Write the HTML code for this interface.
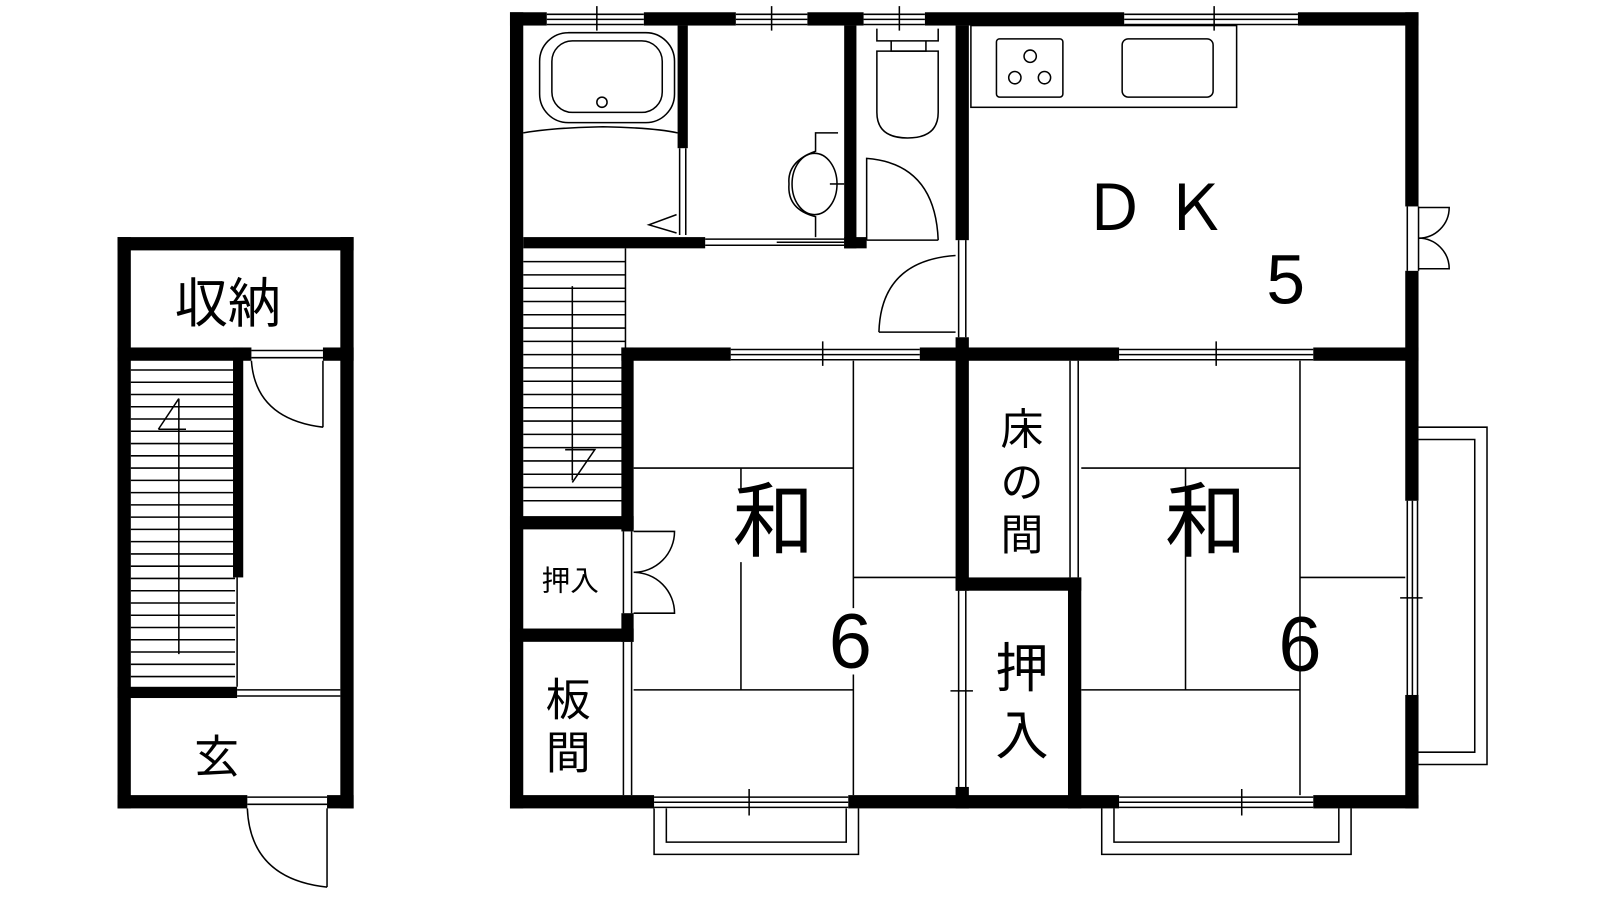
<!DOCTYPE html>
<html><head><meta charset="utf-8"><style>
html,body{margin:0;padding:0;background:#fff}
svg{display:block}
text{font-family:"Liberation Sans","Noto Sans CJK JP",sans-serif;fill:#000}
</style></head><body>
<svg width="1600" height="900" viewBox="0 0 1600 900" xmlns="http://www.w3.org/2000/svg">
<g transform="scale(1.022)">
<g fill="#000">
<rect x="115" y="232" width="231" height="13"/>
<rect x="115" y="232" width="13" height="559"/>
<rect x="333" y="232" width="13" height="559"/>
<rect x="115" y="778" width="127" height="13"/>
<rect x="320" y="778" width="26" height="13"/>
<rect x="115" y="340" width="131" height="13"/>
<rect x="316" y="340" width="30" height="13"/>
<rect x="228" y="340" width="10" height="225"/>
<rect x="115" y="672" width="117" height="11"/>
<rect x="499" y="12" width="36" height="13"/>
<rect x="630" y="12" width="90" height="13"/>
<rect x="790" y="12" width="55" height="13"/>
<rect x="905" y="12" width="195" height="13"/>
<rect x="1270" y="12" width="118" height="13"/>
<rect x="499" y="12" width="13" height="779"/>
<rect x="1375" y="12" width="13" height="190"/>
<rect x="1375" y="265" width="13" height="225"/>
<rect x="1375" y="680" width="13" height="111"/>
<rect x="499" y="778" width="141" height="13"/>
<rect x="830" y="778" width="265" height="13"/>
<rect x="1285" y="778" width="103" height="13"/>
<rect x="663" y="25" width="10" height="120"/>
<rect x="512" y="232" width="178" height="11"/>
<rect x="826" y="25" width="12" height="218"/>
<rect x="826" y="232" width="22" height="11"/>
<rect x="935" y="25" width="13" height="210"/>
<rect x="935" y="330" width="13" height="248"/>
<rect x="608" y="340" width="107" height="13"/>
<rect x="900" y="340" width="195" height="13"/>
<rect x="1285" y="340" width="103" height="13"/>
<rect x="608" y="340" width="12" height="180"/>
<rect x="499" y="505" width="121" height="13"/>
<rect x="608" y="600" width="12" height="28"/>
<rect x="499" y="615" width="121" height="13"/>
<rect x="935" y="565" width="123" height="13"/>
<rect x="1045" y="565" width="13" height="226"/>
<rect x="935" y="770" width="13" height="21"/>
</g>
<g fill="none" stroke="#000" stroke-width="1.5">
<path d="M535 14H630M535 19H630M535 24H630M584 6V30"/>
<path d="M720 14H790M720 19H790M720 24H790M755 6V30"/>
<path d="M845 14H905M845 19H905M845 24H905M880 6V30"/>
<path d="M1100 14H1270M1100 19H1270M1100 24H1270M1188 6V30"/>
<path d="M715 342H900M715 347H900M715 352H900M805 334V358"/>
<path d="M1095 342H1285M1095 347H1285M1095 352H1285M1190 334V358"/>
<path d="M640 780H830M640 785H830M640 790H830M733 772V798"/>
<path d="M640 791V836H840V791M652 791V824H828V791"/>
<path d="M1095 780H1285M1095 785H1285M1095 790H1285M1215 772V798"/>
<path d="M1078 791V836H1322V791M1090 791V824H1310V791"/>
<path d="M1377 490V680M1382 490V680M1387 490V680M1370 585H1392"/>
<path d="M1388 418H1455V748H1388M1388 430H1443V736H1388"/>
<path d="M1377 202V265M1388 202V265M1388 203H1418A30 30 0 0 1 1388 233M1388 263H1418A30 30 0 0 0 1388 233"/>
<path d="M512 130Q540 125 590 124Q640 125 663 130"/>
<rect x="528" y="32" width="132" height="88" rx="28"/>
<rect x="540" y="40" width="108" height="70" rx="20"/>
<circle cx="589" cy="100" r="5"/>
<path d="M665 145V230M671 145V230M662 210L635 220L662 228"/>
<path d="M820 130H798V148Q770 158 772 180Q770 205 798 212V232"/>
<ellipse cx="797" cy="180" rx="22" ry="30"/>
<path d="M812 180H826"/>
<path d="M690 234H826M690 240H826M760 237H826"/>
<path d="M858 28V40H918V28M872 40V50H906V40"/>
<path d="M858 50H918V110Q918 135 888 135Q858 135 858 110Z"/>
<path d="M848 235V155Q915 160 918 235M848 235H918"/>
<path d="M938 235V330M945 235V330"/>
<path d="M860 325H935M860 325Q862 255 935 250"/>
<rect x="950" y="25" width="260" height="80"/>
<rect x="975" y="38" width="65" height="57" rx="3"/>
<circle cx="1008" cy="55" r="6"/><circle cx="993" cy="76" r="6"/><circle cx="1022" cy="76" r="6"/>
<rect x="1098" y="38" width="89" height="57" rx="6"/>
<path d="M612 243V505M560 280V470M553 440H582L560 472"/>
<path d="M610 520V600M618 520V600M620 520H660A40 40 0 0 1 620 560M620 600H660A40 40 0 0 0 620 560"/>
<path d="M610 628V778M618 628V778"/>
<path d="M835 353V565M620 458H835M725 458V480M725 550V675M835 565H935M620 675H835M835 565V595M835 660V778"/>
<path d="M1047 353V565M1055 353V565"/>
<path d="M938 578V770M945 578V770M930 676H952"/>
<path d="M1272 353V565M1058 458H1272M1160 458V675M1272 565H1375M1058 675H1272M1272 565V778"/>
<path d="M246 343H316M246 350H316M316 353V418M246 353Q250 410 316 418"/>
<path d="M232 565V672M232 675H333M232 681H333"/>
<path d="M242 780H320M242 787H320M320 791V868M242 791Q245 860 320 868"/>
<path d="M175 390V640M155 420H182M175 390L155 420"/>
</g>
<g stroke="#000" stroke-width="1.5">
<path d="M512 256H612M512 269H612M512 282H612M512 295H612M512 308H612M512 321H612M512 334H612M512 347H612M512 360H612M512 373H612M512 386H612M512 399H612M512 412H612M512 425H612M512 438H612M512 451H612M512 464H612M512 477H612M512 490H612"/>
<path d="M128 362H230M128 374H230M128 386H230M128 398H230M128 410H230M128 422H230M128 434H230M128 446H230M128 458H230M128 470H230M128 482H230M128 494H230M128 506H230M128 518H230M128 530H230M128 542H230M128 554H230M128 566H230M128 578H230M128 590H230M128 602H230M128 614H230M128 626H230M128 638H230M128 650H230M128 662H230"/>
</g>
<text x="1130" y="225" font-size="62" text-anchor="middle">Ｄ Ｋ</text>
<text x="1258" y="297" font-size="68" text-anchor="middle">5</text>
<text x="757" y="538" font-size="80" text-anchor="middle">和</text>
<text x="832" y="653" font-size="76" text-anchor="middle">6</text>
<text x="1180" y="538" font-size="80" text-anchor="middle">和</text>
<text x="1272" y="656" font-size="76" text-anchor="middle">6</text>
<text x="1000" y="435" font-size="42" text-anchor="middle">床</text>
<text x="1000" y="487" font-size="42" text-anchor="middle">の</text>
<text x="1000" y="538" font-size="42" text-anchor="middle">間</text>
<text x="1000" y="672" font-size="52" text-anchor="middle">押</text>
<text x="1000" y="738" font-size="52" text-anchor="middle">入</text>
<text x="558" y="578" font-size="28" text-anchor="middle">押入</text>
<text x="556" y="700" font-size="44" text-anchor="middle">板</text>
<text x="556" y="752" font-size="44" text-anchor="middle">間</text>
<text x="223" y="315" font-size="52" text-anchor="middle">収納</text>
<text x="212" y="756" font-size="44" text-anchor="middle">玄</text>
</g>
</svg>
</body></html>
